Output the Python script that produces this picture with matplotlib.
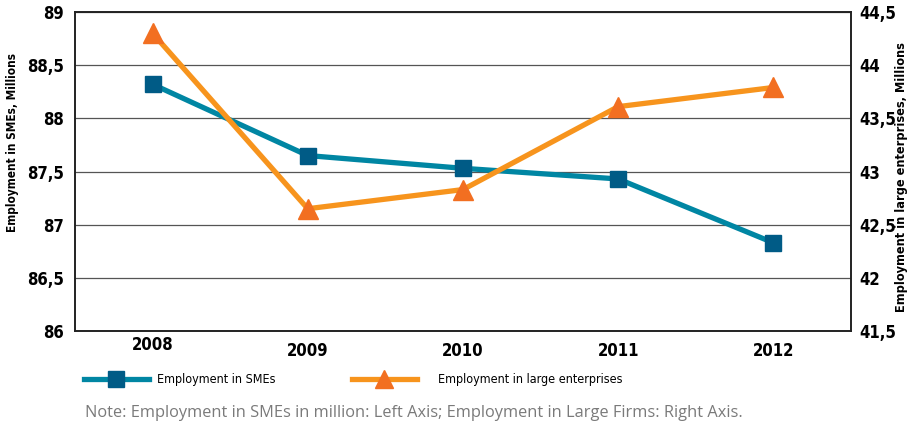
import matplotlib
matplotlib.use("Agg")
import matplotlib.pyplot as plt
from matplotlib.ticker import FuncFormatter, MultipleLocator
from matplotlib.lines import Line2D
import matplotlib.transforms as mtransforms

years = ["2008", "2009", "2010", "2011", "2012"]
sme_employment = [88.32, 87.65, 87.53, 87.43, 86.83]
large_employment = [44.30, 42.65, 42.83, 43.61, 43.79]

sme_line = "#0086A3"
sme_marker = "#005B86"
large_line = "#F7941D"
large_marker = "#F26F21"

plt.rcParams["font.family"] = ["DejaVu Sans"]
plt.rcParams["font.stretch"] = "condensed"

fig = plt.figure(figsize=(9.13, 4.22), dpi=100)
ax = fig.add_axes([0.0821, 0.2156, 0.932 - 0.0821, 0.9716 - 0.2156])
ax2 = ax.twinx()

x = list(range(len(years)))
ax.plot(x, sme_employment, color=sme_line, lw=3.8, marker="s", markersize=12,
        markerfacecolor=sme_marker, markeredgecolor=sme_marker, zorder=3)
ax2.plot(x, large_employment, color=large_line, lw=3.8, marker="^", markersize=14,
         markerfacecolor=large_marker, markeredgecolor=large_marker, zorder=3)

comma = FuncFormatter(lambda v, p: ("%g" % v).replace(".", ","))

ax.set_xlim(-0.5, 4.5)
ax.set_ylim(86, 89)
ax2.set_ylim(41.5, 44.5)
ax.yaxis.set_major_locator(MultipleLocator(0.5))
ax2.yaxis.set_major_locator(MultipleLocator(0.5))
ax.yaxis.set_major_formatter(comma)
ax2.yaxis.set_major_formatter(comma)
ax.set_xticks(x)
ax.set_xticklabels(years)
ax.grid(axis="y", color="#555555", lw=0.9)
ax.set_axisbelow(True)

for a in (ax, ax2):
    a.tick_params(length=0, labelsize=12)
    for s in a.spines.values():
        s.set_color("#222222")
        s.set_linewidth(1.2)
    for lab in a.get_yticklabels():
        lab.set_fontweight("bold")
ax.tick_params(axis="y", pad=8)
ax2.tick_params(axis="y", pad=6)
ax.tick_params(axis="x", pad=8)
for i, lab in enumerate(ax.get_xticklabels()):
    lab.set_fontweight("bold")
    if i == 0:
        lab.set_transform(lab.get_transform() +
                          mtransforms.ScaledTranslation(0, 6 / 100, fig.dpi_scale_trans))

ax.set_ylabel("Employment in SMEs, Millions", fontsize=8.5, fontweight="bold")
ax.yaxis.set_label_coords(-0.072, 0.59)
ax2.set_ylabel("Employment in large enterprises, Millions", fontsize=9.1,
               fontweight="bold")
ax2.yaxis.set_label_coords(1.057, 0.483)

h1 = Line2D([], [], color=sme_line, lw=3.8, marker="s", markersize=11,
            markerfacecolor=sme_marker, markeredgecolor=sme_marker)
h2 = Line2D([], [], color=large_line, lw=3.8, marker="^", markersize=13,
            markerfacecolor=large_marker, markeredgecolor=large_marker)
leg1 = fig.legend([h1], ["Employment in SMEs"], loc="center left",
                  bbox_to_anchor=(0.092, 0.1), frameon=False, fontsize=9,
                  handlelength=5.2, handletextpad=0.64, borderpad=0, borderaxespad=0)
leg2 = fig.legend([h2], ["Employment in large enterprises"], loc="center left",
                  bbox_to_anchor=(0.3855, 0.1), frameon=False, fontsize=9,
                  handlelength=5.2, handletextpad=1.68, borderpad=0, borderaxespad=0)

fig.text(0.093, 0.022, "Note: Employment in SMEs in million: Left Axis; Employment in Large Firms: Right Axis.",
         fontsize=11.8, color="#7a7a7a", family=["Open Sans", "DejaVu Sans"],
         stretch="normal", va="center")

fig.savefig("out.png", dpi=100)
